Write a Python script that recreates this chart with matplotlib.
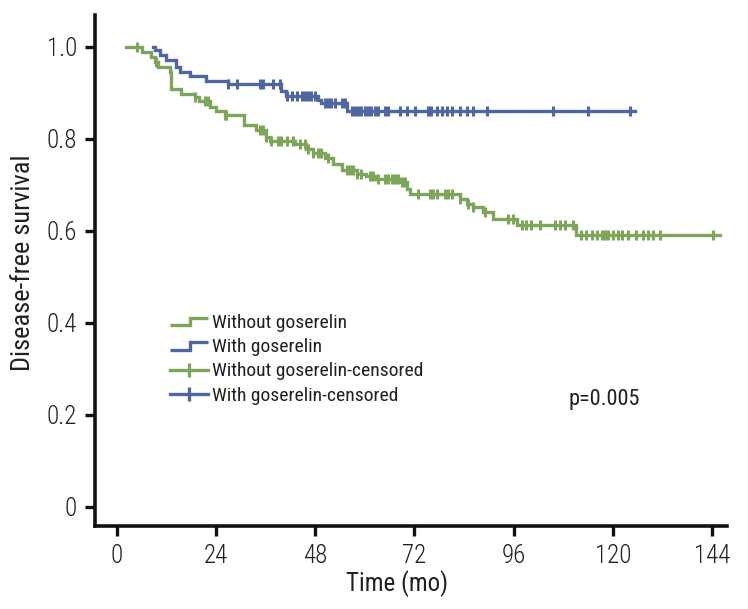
import matplotlib
matplotlib.use('Agg')
import matplotlib.pyplot as plt
import numpy as np
from matplotlib import font_manager
from matplotlib.legend_handler import HandlerBase
from matplotlib.lines import Line2D

# Kaplan-Meier steps: time of each step (mo) and level after it
GREEN_TIME = [2.3, 6.0, 8.4, 9.2, 10.0, 12.8, 13.2, 15.6, 18.9, 20.0, 22.5, 24.1, 26.1,
              30.8, 33.8, 36.2, 37.0, 43.0, 45.9, 47.5, 50.3, 52.3, 54.4, 58.0, 60.4,
              62.8, 68.5, 70.1, 70.9, 83.0, 84.6, 86.2, 88.6, 91.0, 96.8, 111.0]
GREEN_SURV = [1.0, 0.988, 0.978, 0.967, 0.957, 0.945, 0.909, 0.898, 0.890, 0.883, 0.870,
              0.861, 0.851, 0.829, 0.818, 0.804, 0.796, 0.789, 0.778, 0.770, 0.757, 0.746,
              0.731, 0.724, 0.720, 0.713, 0.706, 0.691, 0.680, 0.670, 0.659, 0.652, 0.641,
              0.626, 0.612, 0.590]
GREEN_END = 146.0
GREEN_CENSOR = [4.9, 9.6, 18.9, 21.3, 22.1, 26.1, 26.5, 34.6, 35.4, 36.2, 37.4, 39.0, 39.8,
                41.1, 42.7, 44.3, 45.5, 46.3, 47.5, 48.7, 49.5, 51.1, 55.6, 56.4, 57.2,
                58.0, 59.2, 61.2, 62.0, 63.2, 64.8, 65.6, 66.5, 67.3, 68.1, 68.9, 69.7,
                72.9, 75.7, 76.5, 77.4, 79.4, 80.2, 81.0, 83.0, 85.0, 86.2, 89.0, 94.7,
                95.9, 97.9, 99.1, 100.3, 102.3, 106.0, 107.2, 108.4, 110.4, 112.4, 113.6,
                114.9, 116.1, 117.3, 118.1, 118.9, 120.1, 121.3, 122.1, 123.7, 125.7,
                127.3, 128.5, 129.8, 131.4, 144.3]

BLUE_TIME = [8.8, 9.2, 10.4, 12.0, 14.3, 15.2, 17.8, 21.5, 26.8, 39.8, 41.0, 48.6, 49.5, 55.6]
BLUE_SURV = [1.0, 0.993, 0.983, 0.972, 0.957, 0.946, 0.936, 0.925, 0.918, 0.903, 0.892,
             0.885, 0.878, 0.860]
BLUE_END = 125.3
BLUE_CENSOR = [26.9, 29.0, 34.6, 35.4, 37.8, 39.5, 41.1, 42.3, 43.6, 44.8, 45.5, 46.3, 47.1,
               47.9, 50.3, 51.1, 51.9, 52.7, 54.4, 55.2, 56.8, 57.6, 58.4, 59.2, 60.0, 60.8,
               61.6, 62.4, 63.2, 64.8, 65.6, 68.5, 70.1, 72.1, 75.3, 76.1, 77.4, 78.6, 79.8,
               81.0, 83.0, 84.6, 86.2, 89.5, 105.6, 113.9, 124.1]

XTICKS = [0, 24, 48, 72, 96, 120, 144]
YTICKS = [0, 0.2, 0.4, 0.6, 0.8, 1.0]
YTICKLABELS = ['0', '0.2', '0.4', '0.6', '0.8', '1.0']

GREEN = '#7ea65a'
BLUE = '#4f66a0'
TEXT = '#231f20'

# the original uses a condensed sans; take the closest one the system has
names = {f.name for f in font_manager.fontManager.ttflist}
PREFERRED = ['Roboto Condensed', 'Liberation Sans Narrow', 'Archivo Narrow']
FONT = next((n for n in PREFERRED if n in names), 'Liberation Sans')
plt.rcParams['font.family'] = [FONT, 'DejaVu Sans']


class StepHandler(HandlerBase):
    """Legend glyph shaped like a small survival step."""

    def create_artists(self, legend, orig_handle, xdescent, ydescent, width, height,
                       fontsize, trans):
        x0, y0 = -xdescent, -ydescent
        xs = [x0, x0 + 0.52 * width, x0 + 0.52 * width, x0 + width]
        ys = [y0 + 0.2 * height, y0 + 0.2 * height, y0 + 0.75 * height, y0 + 0.75 * height]
        line = Line2D(xs, ys, color=orig_handle.get_color(), lw=orig_handle.get_linewidth(),
                      solid_joinstyle='miter', solid_capstyle='butt', transform=trans)
        return [line]


def surv_at(times, surv, t):
    idx = np.searchsorted(times, t, side='right') - 1
    return np.asarray(surv)[np.clip(idx, 0, len(surv) - 1)]


def draw_curve(ax, times, surv, end, censor, color):
    xs = list(times) + [end]
    ys = list(surv) + [surv[-1]]
    ax.step(xs, ys, where='post', color=color, lw=2.4, solid_joinstyle='miter')
    ax.plot(censor, surv_at(times, surv, censor), ls='none', marker='|', ms=7.5,
            mew=2.2, color=color)


fig = plt.figure(figsize=(7.48, 6.09), dpi=100)
ax = fig.add_axes([95 / 748, 1 - 525.5 / 609, 632 / 748, 510.5 / 609])

draw_curve(ax, BLUE_TIME, BLUE_SURV, BLUE_END, BLUE_CENSOR, BLUE)
draw_curve(ax, GREEN_TIME, GREEN_SURV, GREEN_END, GREEN_CENSOR, GREEN)

ax.set_xlim(-5.25, 147.6)
ax.set_ylim(-0.041, 1.069)
ax.set_xticks(XTICKS)
ax.set_yticks(YTICKS)
ax.set_yticklabels(YTICKLABELS)
for side in ('top', 'right'):
    ax.spines[side].set_visible(False)
for side in ('left', 'bottom'):
    ax.spines[side].set_linewidth(2.6)
    ax.spines[side].set_color('#111111')
ax.tick_params(direction='out', length=7, width=2.4, color='#111111', labelsize=18,
               labelcolor=TEXT, pad=6)
for lbl in ax.get_xticklabels() + ax.get_yticklabels():
    lbl.set_fontweight('light')

fig.text(397 / 748, 1 - 584 / 609, 'Time (mo)', ha='center', va='center', fontsize=18,
         color=TEXT)
fig.text(23 / 748, 1 - 263 / 609, 'Disease-free survival', ha='center', va='center',
         rotation=90, fontsize=19, color=TEXT)
fig.text(604 / 748, 1 - 400 / 609, 'p=0.005', ha='center', va='center', fontsize=16,
         color=TEXT)

h_green = Line2D([], [], color=GREEN, lw=2.4)
h_blue = Line2D([], [], color=BLUE, lw=2.4)
h_green_c = Line2D([], [], color=GREEN, lw=2.4, marker='|', ms=10, mew=2.4)
h_blue_c = Line2D([], [], color=BLUE, lw=2.4, marker='|', ms=10, mew=2.4)
leg = ax.legend([h_green, h_blue, h_green_c, h_blue_c],
                ['Without goserelin', 'With goserelin', 'Without goserelin-censored',
                 'With goserelin-censored'],
                handler_map={h_green: StepHandler(), h_blue: StepHandler()},
                loc='upper left', bbox_to_anchor=(170 / 748, 1 - 314 / 609),
                bbox_transform=fig.transFigure, frameon=False, fontsize=14,
                handlelength=1.95, handletextpad=0.2, labelspacing=0.32, borderpad=0,
                borderaxespad=0, numpoints=1)
for t in leg.get_texts():
    t.set_color(TEXT)

fig.savefig('out.png', dpi=100)
